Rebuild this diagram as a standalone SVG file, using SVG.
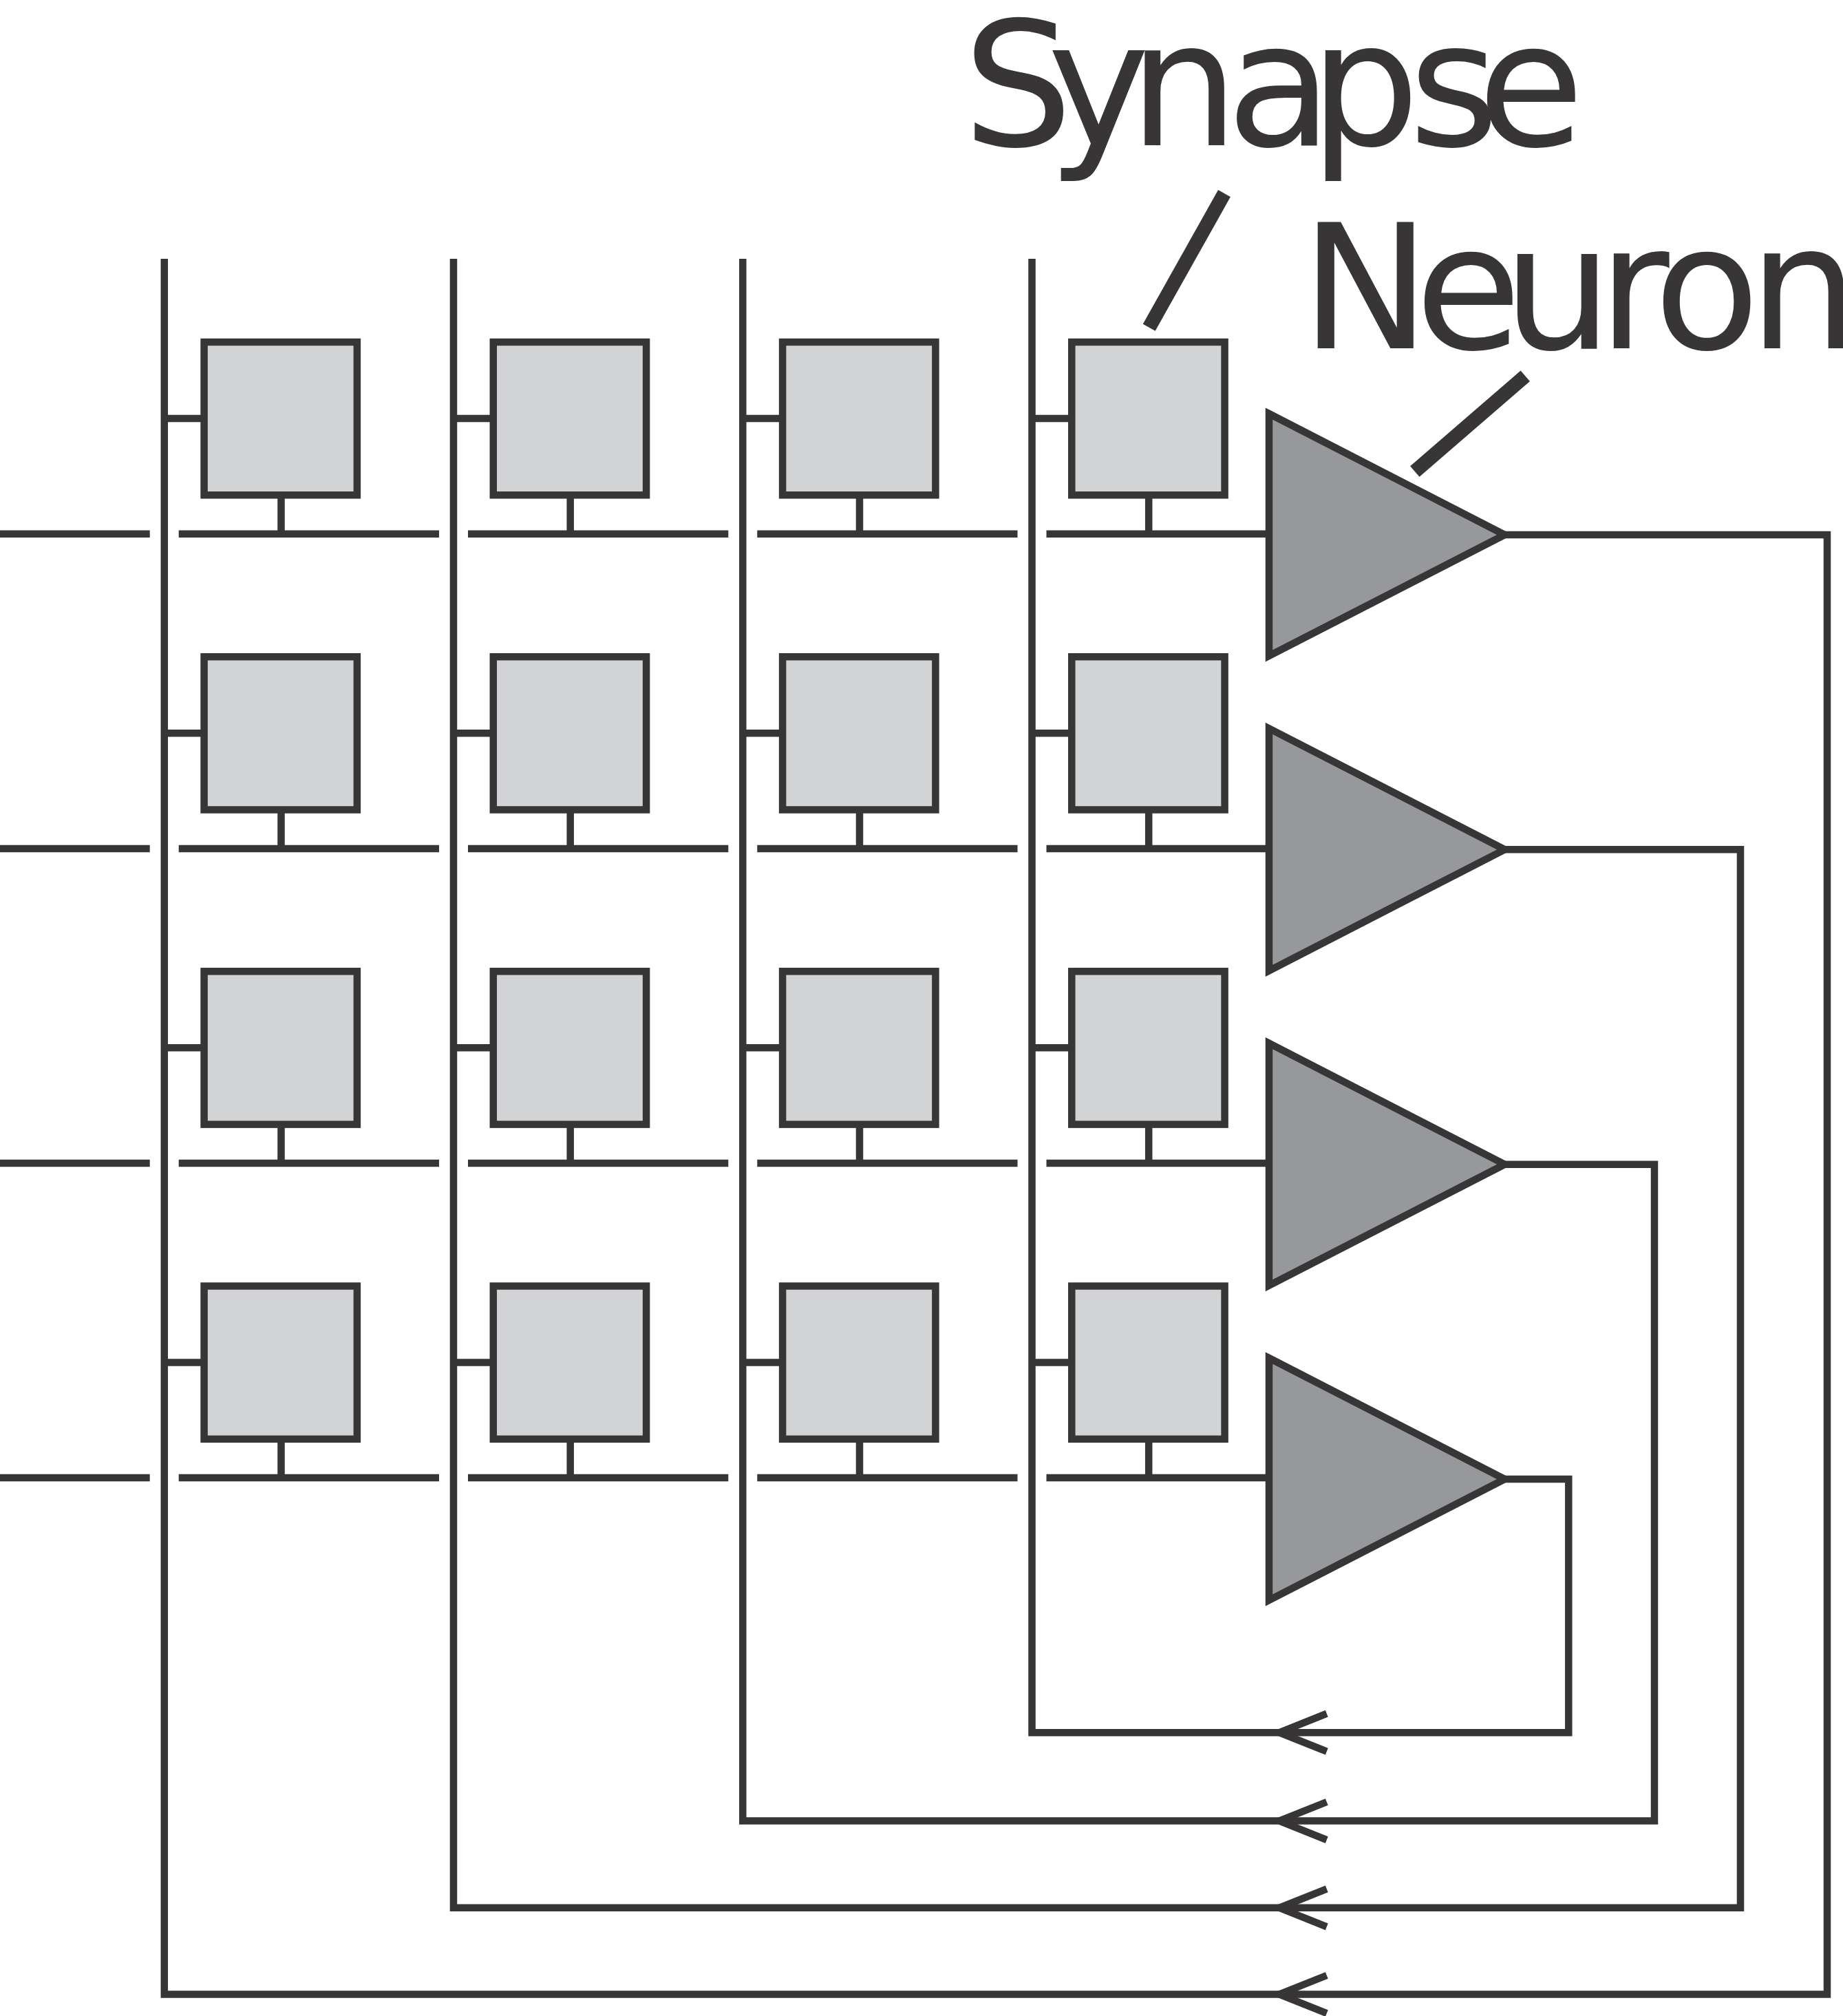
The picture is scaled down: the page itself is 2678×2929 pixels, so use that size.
<svg xmlns="http://www.w3.org/2000/svg" width="2678" height="2929" viewBox="0 0 2678 2929">
<defs>
<style>
.w{fill:none;stroke:#373535;stroke-width:10.5;stroke-miterlimit:10}
.s{fill:#d1d3d4;stroke:#373535;stroke-width:10.5}
.n{fill:#97989b;stroke:#373535;stroke-width:10.5;stroke-miterlimit:10}
.l{fill:none;stroke:#373535;stroke-width:20.5}
.t{font-family:"DejaVu Sans",sans-serif;font-size:252px;fill:#373535}
</style>
<g id="syn"><path class="w" d="M0 0H58M169.700 111V167.700"/><rect class="s" x="57.800" y="-111" width="222.300" height="222.300"/></g>
<g id="arr"><path class="w" d="M1927.800 -27.500L1859 0L1927.800 27.500"/></g>
</defs>
<rect width="2678" height="2929" fill="#fff"/>
<g id="connectors">
<path class="w" d="M238.800 376V2897.500H2655V777H2186"/>
<path class="w" d="M659 376V2771.800H2529V1234.300H2186"/>
<path class="w" d="M1079.300 376V2645.500H2404V1691.700H2186"/>
<path class="w" d="M1499.500 376V2517.200H2279.300V2149H2186"/>
<path class="w" d="M0 775.700H217.700M259.700 775.700H638M680 775.700H1058.300M1100.300 775.700H1478.500M1520.500 775.700H1844"/>
<path class="w" d="M0 1232.900H217.700M259.700 1232.900H638M680 1232.900H1058.300M1100.300 1232.900H1478.500M1520.500 1232.900H1844"/>
<path class="w" d="M0 1690H217.700M259.700 1690H638M680 1690H1058.300M1100.300 1690H1478.500M1520.500 1690H1844"/>
<path class="w" d="M0 2147H217.700M259.700 2147H638M680 2147H1058.300M1100.300 2147H1478.500M1520.500 2147H1844"/>
<use href="#arr" y="2517.200"/><use href="#arr" y="2645.500"/><use href="#arr" y="2771.800"/><use href="#arr" y="2897.500"/>
<path class="l" d="M1779 281L1669.700 475.800"/>
<path class="l" d="M2216.300 546.200L2055.800 685"/>
</g>
<g id="synapses">
<use id="s11" href="#syn" x="238.800" y="608"/><use id="s12" href="#syn" x="659" y="608"/><use id="s13" href="#syn" x="1079.300" y="608"/><use id="s14" href="#syn" x="1499.500" y="608"/>
<use id="s21" href="#syn" x="238.800" y="1065.200"/><use id="s22" href="#syn" x="659" y="1065.200"/><use id="s23" href="#syn" x="1079.300" y="1065.200"/><use id="s24" href="#syn" x="1499.500" y="1065.200"/>
<use id="s31" href="#syn" x="238.800" y="1522.300"/><use id="s32" href="#syn" x="659" y="1522.300"/><use id="s33" href="#syn" x="1079.300" y="1522.300"/><use id="s34" href="#syn" x="1499.500" y="1522.300"/>
<use id="s41" href="#syn" x="238.800" y="1979.500"/><use id="s42" href="#syn" x="659" y="1979.500"/><use id="s43" href="#syn" x="1079.300" y="1979.500"/><use id="s44" href="#syn" x="1499.500" y="1979.500"/>
</g>
<g id="neurons">
<path id="n1" class="n" d="M1844 601L2186.500 777L1844 953Z"/>
<path id="n2" class="n" d="M1844 1058.300L2186.500 1234.300L1844 1410.300Z"/>
<path id="n3" class="n" d="M1844 1515.700L2186.500 1691.700L1844 1867.700Z"/>
<path id="n4" class="n" d="M1844 1973L2186.500 2149L1844 2325Z"/>
</g>
<g id="labels">
<text class="t" x="1399.100 1521.800 1640.500 1782 1903 2047 2147" y="210.800">Synapse</text>
<text class="t" x="1890 2056 2183.600 2322 2403 2541" y="506.300">Neuron</text>
</g>
</svg>
